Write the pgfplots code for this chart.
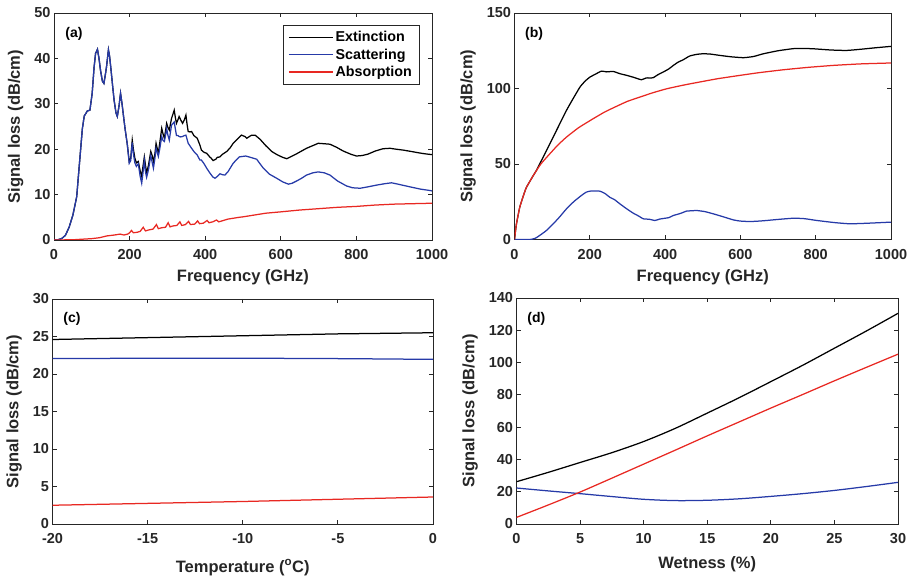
\documentclass[border=0pt]{standalone}
\usepackage{pgfplots}
\pgfplotsset{compat=1.18}
\usepackage{fontspec}
\setmainfont{Liberation Sans}
\definecolor{axgray}{RGB}{38,38,38}
\definecolor{cext}{RGB}{0,0,0}
\definecolor{csca}{RGB}{38,58,168}
\definecolor{cabs}{RGB}{232,40,34}

\pgfplotsset{
  panel/.style={
    scale only axis,
    axis line style={axgray, line width=0.8pt},
    tick style={axgray, line width=0.8pt},
    major tick length=4pt,
    tick align=inside,
    tick label style={font=\fontsize{14.5}{16}\selectfont\bfseries, text=axgray},
    xticklabel style={yshift=-6pt},
    label style={font=\fontsize{16.5}{18}\selectfont\bfseries, text=axgray},
    ylabel style={yshift=4pt},
    /pgf/number format/assume math mode=true,
    /pgf/number format/1000 sep={},
    scaled ticks=false,
    ylabel={Signal loss (dB/cm)},
    clip=true,
  },
  ext/.style={cext, line width=1.25pt},
  sca/.style={csca, line width=1.25pt},
  abs/.style={cabs, line width=1.25pt},
}
\tikzset{tag/.style={font=\fontsize{14}{16}\selectfont\bfseries, text=black}}

\begin{document}
\begin{tikzpicture}
\useasboundingbox (0,0) rectangle (913pt,579pt);

% (a)
\begin{axis}[panel, at={(54pt,339pt)}, anchor=south west,
  width=378pt, height=227pt,
  xmin=0, xmax=1000, ymin=0, ymax=50,
  xtick={0,200,...,1000}, ytick={0,10,...,50},
  xlabel={Frequency (GHz)}, xlabel style={yshift=-3pt},
  legend style={at={(rel axis cs:0.606,0.947)}, anchor=north west,
    font=\fontsize{14.3}{16}\selectfont\bfseries, draw=axgray, line width=0.6pt,
    inner xsep=5pt, inner ysep=4pt, row sep=1.5pt},
  legend cell align=left,
  legend image code/.code={\draw[#1] (0pt,0pt) -- (44pt,0pt);},
]
\addplot[ext] coordinates {
(0,0) (10,0.05) (20,0.3) (30,1) (40,2.8) (50,5.5) (60,9.5) (70,19.5) (75,24.5)
(80,27.3) (88,28.4) (95,28.6) (101,32.3) (106,38) (110,41.1) (115,42) (119,40)
(123,37.4) (128,35) (132,34.5) (136,36.5) (139,38.2) (144,41.9) (147,40.5)
(150,38.2) (155,34) (159,30.8) (164,28) (167.5,27.2) (172,29.5) (176,32.3)
(180,30) (183,27.9) (188,24.5) (194,21) (199,17.3) (203,18) (207,22) (210,20)
(214,18) (218,17) (223,17.3) (228,15.2) (232,14) (235,16) (239,18.3) (242,16.5)
(245,14.7) (250,16.5) (256,19.5) (260,18.5) (263,17.3) (267,19) (270,21.3)
(273,20.2) (276,19.1) (280,21.5) (285,24.6) (288,23.5) (292,22.4) (295,24)
(298,25.7) (301,24.9) (305,24.2) (308,25.5) (311,26.8) (315,27.8) (318,28.6)
(321,27) (324,25.7) (328,26.5) (331,27.2) (335,26.5) (340,25.7) (345,26.5)
(349,27.5) (352,25.5) (355,23.9) (360,23.8) (364,23.9) (370,23) (379,22.4)
(386,20.9) (390,19.8) (397,19.3) (404,19.1) (412,18.3) (416,18) (421,17.5)
(428,17.8) (432,18.2) (439,18.3) (446,18.9) (457,19.5) (466,20.3) (474,21.3)
(485,22.2) (496,23.1) (505,22.8) (510,22.4) (517,22.8) (523,23.1) (532,23.1)
(545,22.2) (560,20.8) (576,19.5) (590,18.8) (605,18.2) (616,17.9) (628,18.4)
(640,18.9) (655,19.6) (668,20.2) (685,20.8) (699,21.3) (715,21.2) (730,21.1)
(748,20.4) (765,19.6) (785,18.9) (800,18.5) (815,18.6) (830,18.9) (850,19.6)
(870,20.1) (889,20.2) (905,20.0) (924,19.8) (945,19.5) (965,19.2) (980,19.0)
(1000,18.8)
};
\addplot[sca] coordinates {
(0,0) (10,0.05) (20,0.3) (30,1) (40,2.8) (50,5.5) (60,9.5) (70,19.5) (75,24.5)
(80,27.3) (88,28.4) (95,28.6) (101,32.3) (106,38) (110,41.1) (115,42) (119,40)
(123,37.4) (128,35) (132,34.5) (136,36.5) (139,38.2) (144,41.9) (147,40.5)
(150,38.2) (155,34) (159,30.8) (164,28) (167.5,27.2) (172,29.5) (176,32.3)
(180,30) (183,27.9) (188,24.5) (194,21) (199,16.9) (203,17.5) (207,21.5)
(210,19) (214,17) (218,16.2) (223,16.8) (228,14) (232,12.5) (235,14.5)
(239,17.5) (242,15) (245,13.8) (250,15.5) (256,18.6) (260,17) (263,15.8)
(267,18) (270,20.2) (273,19.3) (276,18.4) (280,20.2) (285,22.8) (288,22)
(292,21.7) (295,23) (298,24.6) (301,23.2) (305,22) (308,23.7) (311,25.3)
(315,25.7) (318,26) (321,24.5) (324,23) (328,23) (331,22.8) (335,22.7)
(340,22.8) (345,23) (349,23.1) (352,22.2) (355,21.3) (364,20.2) (370,19.5)
(379,18.7) (386,17.6) (390,17.6) (397,16.8) (404,15.8) (412,14.8) (420,13.9)
(426,13.6) (432,14) (439,14.6) (445,14.4) (452,14.3) (460,15) (474,16.9)
(490,18.3) (507,18.5) (520,18.2) (536,17.8) (545,16.8) (554,15.8) (570,14.5)
(589,13.6) (605,12.8) (620,12.3) (630,12.5) (642,13) (655,13.6) (668,14.3)
(685,14.8) (699,15) (715,14.8) (730,14.3) (750,13) (774,11.9) (790,11.5)
(810,11.4) (830,11.7) (854,12.1) (875,12.4) (893,12.6) (910,12.3) (942,11.7)
(970,11.2) (995,10.9) (1000,10.8)
};
\addplot[abs] coordinates {
(0,0) (50,0.05) (100,0.3) (120,0.5) (140,0.9) (160,1.1) (175,1.3) (185,1.1)
(195,1.3) (200,1.6) (205,2.1) (210,1.6) (220,1.7) (228,1.9) (236,2.8) (242,2.0)
(250,2.2) (262,2.4) (271,3.4) (276,2.5) (285,2.7) (295,2.8) (302,3.8) (307,2.9)
(315,3.1) (325,3.2) (333,4.0) (338,3.2) (348,3.4) (356,4.1) (361,3.4) (372,3.5)
(380,4.2) (385,3.6) (395,3.7) (405,4.3) (410,3.8) (420,4.0) (430,4.4) (436,4.0)
(448,4.3) (460,4.6) (475,4.8) (490,5.0) (500,5.1) (530,5.5) (560,5.9) (600,6.2)
(650,6.6) (700,6.9) (750,7.2) (800,7.4) (850,7.7) (900,7.9) (950,8.0) (1000,8.1)
};
\legend{Extinction, Scattering, Absorption}
\node[tag] at (rel axis cs:0.053,0.907) {(a)};
\end{axis}

% (b)
\begin{axis}[panel, at={(514.5pt,339.5pt)}, anchor=south west,
  width=376.5pt, height=226.5pt,
  xmin=0, xmax=1000, ymin=0, ymax=150,
  xtick={0,200,...,1000}, ytick={0,50,100,150},
  xlabel={Frequency (GHz)}, xlabel style={yshift=-3pt},
]
\addplot[ext, smooth, tension=0.3] coordinates {
(0,0) (5,10) (14,21.4) (25,30) (32,34.7) (50,42.4) (58,45.7) (75,54) (94,63.4)
(115,74) (138,85.5) (155,93) (174,101) (188,105) (200,107.5) (215,109.5)
(231,111.5) (245,111) (262,111.3) (280,109.8) (298,108.7) (315,107.5)
(337,105.8) (350,107) (368,107.1) (380,109) (395,110.9) (410,113) (422,115.3)
(435,117.5) (448,119) (465,121.5) (484,122.6) (500,123) (520,122.8) (546,121.9)
(575,121) (608,120.4) (635,121.2) (661,123) (700,125) (741,126.4) (770,126.5)
(794,126.3) (840,125.5) (882,125.2) (920,126) (960,127) (1000,127.9)
};
\addplot[sca, smooth, tension=0.3] coordinates {
(0,0) (41,0) (55,0.8) (67,2.7) (85,6) (103,10.4) (120,15) (138,20.3) (158,25.2)
(178,29.2) (190,31.3) (200,32) (215,32.2) (227,32) (240,30.5) (253,28)
(265,26.5) (280,23.6) (297,20.5) (315,17.5) (330,15.5) (342,13.7) (358,13.4)
(373,12.6) (385,13.5) (395,13.9) (410,14.5) (422,15.9) (440,17.2) (457,18.8)
(470,19.0) (484,19.2) (505,18.5) (528,17) (555,15) (581,13) (600,12.2)
(625,11.9) (650,12.2) (670,12.6) (700,13.3) (741,14.1) (770,13.8) (803,12.6)
(850,11.2) (891,10.4) (940,10.8) (1000,11.5)
};
\addplot[abs, smooth, tension=0.3] coordinates {
(0,0) (5,10) (14,21.4) (25,30) (32,34.7) (50,42.4) (70,50) (94,56.8) (115,62.5)
(138,67.8) (170,74) (209,80) (240,84.5) (271,88.2) (300,91.5) (333,94.3)
(365,97) (404,99.8) (450,102.3) (492,104.3) (540,106.5) (599,108.7) (650,110.5)
(714,112.4) (780,114) (847,115.3) (920,116.3) (1000,116.9)
};
\node[tag] at (rel axis cs:0.052,0.907) {(b)};
\end{axis}

% (c)
\begin{axis}[panel, at={(52.5pt,55pt)}, anchor=south west,
  width=380.5pt, height=225pt,
  xmin=-20, xmax=0, ymin=0, ymax=30,
  xtick={-20,-15,...,0}, ytick={0,5,...,30},
  xlabel={Temperature (\textsuperscript{o}C)}, xlabel style={yshift=-9pt},
]
\addplot[ext] coordinates {(-20,24.6) (-15,24.85) (-10,25.1) (-5,25.35) (0,25.5)};
\addplot[sca, smooth] coordinates {(-20,22.05) (-15,22.1) (-10,22.1) (-5,22.05) (0,21.95)};
\addplot[abs] coordinates {(-20,2.5) (-15,2.75) (-10,3.0) (-5,3.3) (0,3.6)};
\node[tag] at (rel axis cs:0.051,0.911) {(c)};
\end{axis}

% (d)
\begin{axis}[panel, at={(516.5pt,55pt)}, anchor=south west,
  width=381.5pt, height=226pt,
  xmin=0, xmax=30, ymin=0, ymax=140,
  xtick={0,5,...,30}, ytick={0,20,...,140},
  xlabel={Wetness (\%)}, xlabel style={yshift=-6pt},
]
\addplot[ext, smooth] coordinates {
(0,26.2) (2.5,32) (5,38.1) (7.5,44.2) (10,51.1) (12.5,59.3) (15,68.7)
(17.5,78.2) (20,88.2) (22.5,98.3) (25,108.9) (27.5,119.5) (30,130.5)
};
\addplot[sca, smooth] coordinates {
(0,22.3) (2.5,20.5) (5,18.8) (7.5,17) (10,15.3) (12.5,14.5) (15,14.7)
(17.5,15.6) (20,17.1) (22.5,18.8) (25,20.8) (27.5,23.2) (30,25.8)
};
\addplot[abs, smooth] coordinates {
(0,4.1) (2.5,11.8) (5,19.8) (7.5,28.4) (10,37.1) (12.5,45.8) (15,54.6)
(17.5,63.2) (20,71.8) (22.5,80.2) (25,88.7) (27.5,97) (30,105.2)
};
\node[tag] at (rel axis cs:0.052,0.907) {(d)};
\end{axis}
\end{tikzpicture}
\end{document}
